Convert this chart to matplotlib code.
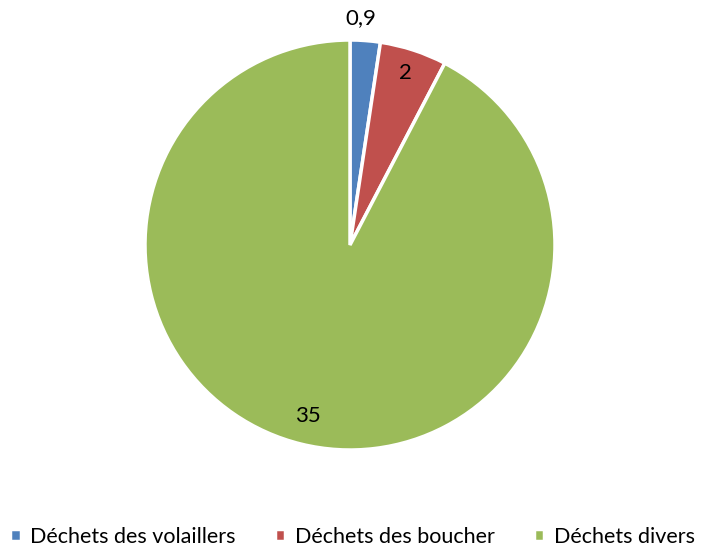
import numpy as np
import matplotlib
matplotlib.use('Agg')
import matplotlib.pyplot as plt

categories = ['Déchets des volaillers', 'Déchets des boucher', 'Déchets divers']
values = [0.9, 2, 35]
value_labels = ['0,9', '2', '35']
colors = ['#4F81BD', '#C0504D', '#9BBB59']
label_dist = [1.11, 0.88, 0.86]

plt.rcParams['font.family'] = ['Lato', 'DejaVu Sans']

fig = plt.figure(figsize=(7.05, 5.47), dpi=100)
ax = fig.add_axes([145 / 705, 97 / 547, 410 / 705, 410 / 547])

wedges, _ = ax.pie(values, colors=colors, startangle=90, counterclock=False,
                   radius=1, wedgeprops=dict(edgecolor='white', linewidth=2.5))
ax.set_xlim(-1, 1)
ax.set_ylim(-1, 1)
ax.set_aspect('equal')
ax.axis('off')

for w, lab, d in zip(wedges, value_labels, label_dist):
    ang = np.deg2rad((w.theta1 + w.theta2) / 2)
    ax.text(d * np.cos(ang) - 0.03 * (lab == '0,9'), d * np.sin(ang), lab,
            ha='center', va='center', fontsize=16, color='black', clip_on=False)

fig.legend(wedges, categories, loc='center', bbox_to_anchor=(0.5, 1 - 537 / 547),
           ncol=3, frameon=False, fontsize=15.5, handlelength=0.5, handleheight=0.5,
           handletextpad=0.45, columnspacing=1.8, borderaxespad=0, borderpad=0)

fig.savefig('out.png', dpi=100)
